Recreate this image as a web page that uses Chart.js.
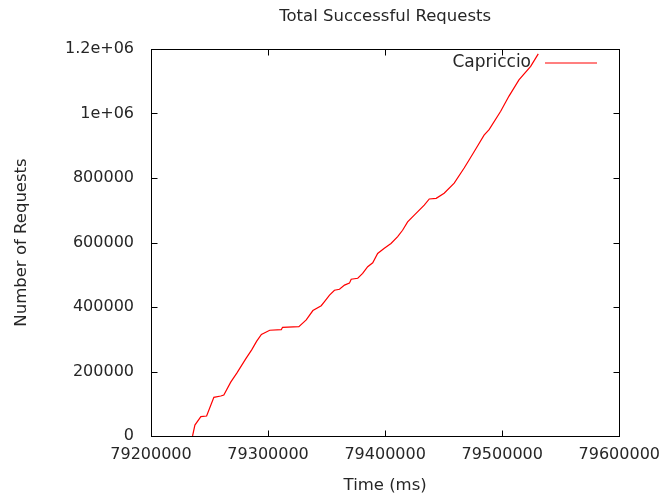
<!DOCTYPE html>
<html>
<head>
<meta charset="utf-8">
<script src="https://cdn.jsdelivr.net/npm/chart.js@4/dist/chart.umd.min.js"></script>
<style>
  html, body { margin: 0; padding: 0; background: #fff; }
  #wrap { width: 669px; height: 499px; }
</style>
</head>
<body>
<div id="wrap"><canvas id="c" width="669" height="499"></canvas></div>
<script>
// Cumulative successful requests over time
const timeMs = [
  79235500, 79237500, 79242600, 79247500, 79253700, 79259600, 79262200,
  79268100, 79273300, 79280900, 79286000, 79290300,
  79294300, 79301400, 79311300, 79312400, 79326300, 79332600,
  79338300, 79345400, 79348200, 79352500, 79356700, 79361000, 79365300,
  79369500, 79371000, 79376600, 79380800, 79385100, 79389400, 79393600,
  79399300, 79405000, 79410700, 79414900, 79419200, 79424900, 79433400,
  79437700, 79443600, 79450400, 79459000, 79467500, 79471700, 79477400,
  79484500, 79488800, 79498700, 79505800, 79514300, 79524300, 79530800
];
const requests = [
  0, 34000, 60000, 62000, 120000, 124000, 127000,
  167000, 195000, 239000, 267000, 294000,
  315000, 328000, 330000, 337000, 339000, 360000,
  389000, 404000, 417000, 437000, 452000, 455000, 468000,
  474000, 486000, 489000, 504000, 525000, 537000, 566000,
  582000, 597000, 618000, 638000, 664000, 685000, 716000,
  735000, 737000, 753000, 784000, 831000, 856000, 890000,
  933000, 950000, 1007000, 1054000, 1104000, 1146000, 1185000
];
const xTickValues = [79200000, 79300000, 79400000, 79500000, 79600000];
const yTickValues = [0, 200000, 400000, 600000, 800000, 1000000, 1200000];
const yTickLabels = ['0', '200000', '400000', '600000', '800000', '1e+06', '1.2e+06'];

const chartTitle = 'Total Successful Requests';
const xTitle = 'Time (ms)';
const yTitle = 'Number of Requests';
const seriesName = 'Capriccio';

const FONT = '"DejaVu Sans", Verdana, sans-serif';
const TEXT = '#262626';
const LINE = '#ff0000';

const points = timeMs.map((t, i) => ({ x: t, y: requests[i] }));

// Frame, mirrored inward ticks, titles and key, gnuplot style
const framePlugin = {
  id: 'frame',
  afterDraw(chart) {
    const { ctx, chartArea: a, scales } = chart;
    const L = Math.round(a.left) + 0.5, R = Math.round(a.right) + 0.5;
    const T = Math.round(a.top) + 0.5, B = Math.round(a.bottom) + 0.5;
    ctx.save();
    ctx.strokeStyle = '#000';
    ctx.lineWidth = 1;
    ctx.strokeRect(L, T, R - L, B - T);
    const tl = 6;
    ctx.beginPath();
    scales.x.ticks.forEach(t => {
      const px = Math.round(scales.x.getPixelForValue(t.value)) + 0.5;
      ctx.moveTo(px, B); ctx.lineTo(px, B - tl);
      ctx.moveTo(px, T); ctx.lineTo(px, T + tl);
    });
    scales.y.ticks.forEach(t => {
      const py = Math.round(scales.y.getPixelForValue(t.value)) + 0.5;
      ctx.moveTo(L, py); ctx.lineTo(L + tl, py);
      ctx.moveTo(R, py); ctx.lineTo(R - tl, py);
    });
    ctx.stroke();

    ctx.fillStyle = TEXT;
    ctx.textAlign = 'center';
    ctx.textBaseline = 'middle';
    const cx = (a.left + a.right) / 2;
    ctx.font = '16.5px ' + FONT;
    ctx.fillText(chartTitle, cx, 17);
    ctx.fillText(xTitle, cx, 486);
    ctx.save();
    ctx.translate(22, (a.top + a.bottom) / 2);
    ctx.rotate(-Math.PI / 2);
    ctx.fillText(yTitle, 0, 0);
    ctx.restore();

    // key
    ctx.font = '17px ' + FONT;
    ctx.textAlign = 'right';
    ctx.fillText(chart.data.datasets[0].label, 531, 63);
    ctx.strokeStyle = LINE;
    ctx.lineWidth = 1.2;
    ctx.beginPath();
    ctx.moveTo(545, 63); ctx.lineTo(597, 63);
    ctx.stroke();
    ctx.restore();
  }
};

new Chart(document.getElementById('c'), {
  type: 'line',
  data: {
    datasets: [{
      label: seriesName,
      data: points,
      borderColor: LINE,
      borderWidth: 1.2,
      pointRadius: 0,
      tension: 0,
      fill: false
    }]
  },
  options: {
    responsive: false,
    animation: false,
    devicePixelRatio: 1,
    layout: { padding: { left: 0, top: 49, right: 48, bottom: 0 } },
    plugins: {
      legend: { display: false },
      title: { display: false },
      tooltip: { enabled: false }
    },
    scales: {
      x: {
        type: 'linear',
        min: xTickValues[0],
        max: xTickValues[xTickValues.length - 1],
        afterBuildTicks: s => { s.ticks = xTickValues.map(v => ({ value: v })); },
        afterFit: s => { s.height = 63; },
        grid: { display: false, drawTicks: false },
        border: { display: false },
        ticks: {
          autoSkip: false,
          maxRotation: 0,
          padding: 9,
          color: TEXT,
          font: { family: FONT, size: 16 },
          callback: v => String(v)
        }
      },
      y: {
        type: 'linear',
        min: yTickValues[0],
        max: yTickValues[yTickValues.length - 1],
        afterBuildTicks: s => { s.ticks = yTickValues.map(v => ({ value: v })); },
        afterFit: s => { s.width = 151; },
        grid: { display: false, drawTicks: false },
        border: { display: false },
        ticks: {
          autoSkip: false,
          padding: 17,
          color: TEXT,
          font: { family: FONT, size: 16 },
          callback: (v, i) => yTickLabels[i]
        }
      }
    }
  },
  plugins: [framePlugin]
});
</script>
</body>
</html>
